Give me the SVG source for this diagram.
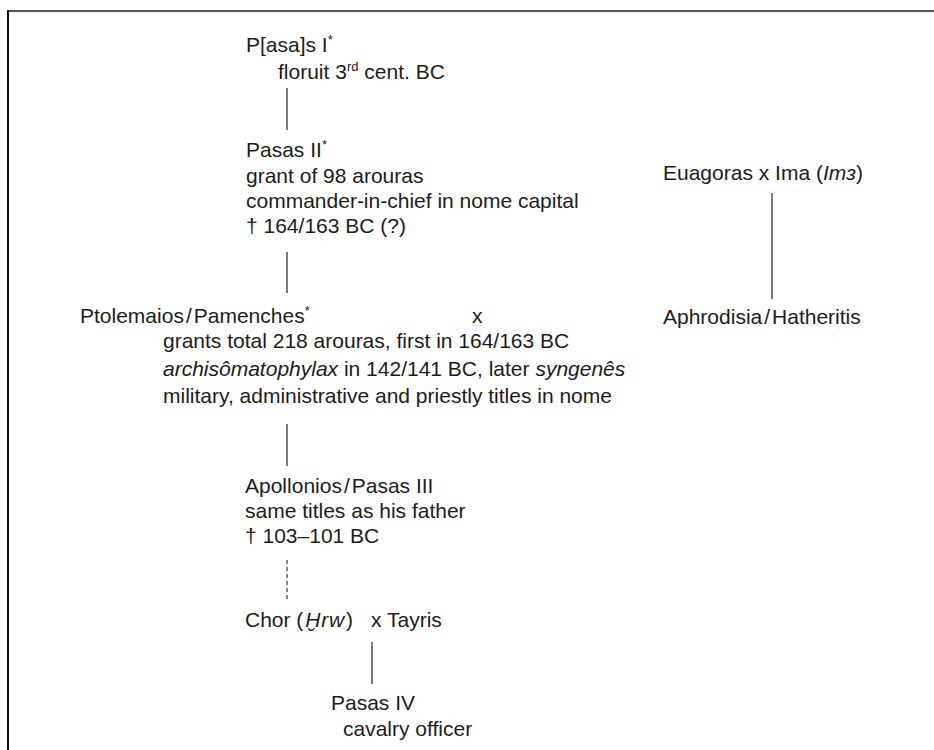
<svg xmlns="http://www.w3.org/2000/svg" width="934" height="750" viewBox="0 0 934 750">
<style>
text{font-family:"Liberation Sans","Helvetica",Arial,sans-serif;font-size:21px;fill:#1c1c1c}
.sup{font-size:13px}
.it{font-style:italic}
.ln{stroke:#333;stroke-width:1.3;fill:none}
.dash{stroke:#333;stroke-width:1.2;stroke-dasharray:4 3;fill:none}
</style>
<rect x="0" y="0" width="934" height="750" fill="#fff"/>
<g id="frame">
<line x1="7" y1="11" x2="934" y2="11" stroke="#555" stroke-width="2.2"/>
<line x1="8" y1="10" x2="8" y2="750" stroke="#111" stroke-width="2"/>
</g>
<g id="connectors">
<line class="ln" x1="287" y1="88" x2="287" y2="130"/>
<line class="ln" x1="287" y1="252" x2="287" y2="293"/>
<line class="ln" x1="772" y1="193" x2="772" y2="299"/>
<line class="ln" x1="287" y1="424" x2="287" y2="466"/>
<line class="dash" x1="287" y1="560" x2="287" y2="601"/>
<line class="ln" x1="372" y1="642" x2="372" y2="684"/>
</g>
<g id="pasas1">
<text x="246" y="52">P[asa]s I<tspan class="sup" dy="-8">*</tspan></text>
<text x="278" y="79">floruit 3<tspan class="sup" dy="-8">rd</tspan><tspan dy="8"> cent. BC</tspan></text>
</g>
<g id="pasas2">
<text x="246" y="157">Pasas II<tspan class="sup" dy="-8">*</tspan></text>
<text x="246" y="183">grant of 98 arouras</text>
<text x="246" y="208">commander-in-chief in nome capital</text>
<text x="246" y="233">† 164/163 BC (?)</text>
</g>
<g id="euagoras">
<text x="663" y="180">Euagoras x Ima (<tspan class="it">Imɜ</tspan>)</text>
</g>
<g id="ptolemaios">
<text x="80" y="323">Ptolemaios<tspan dx="2">/</tspan><tspan dx="2">Pamenches</tspan><tspan class="sup" dy="-8">*</tspan></text>
<text x="163" y="348">grants total 218 arouras, first in 164/163 BC</text>
<text x="163" y="376"><tspan class="it">archisômatophylax</tspan> in 142/141 BC, later <tspan class="it">syngenês</tspan></text>
<text x="163" y="403">military, administrative and priestly titles in nome</text>
</g>
<g id="marriage1">
<text x="472" y="323">x</text>
</g>
<g id="aphrodisia">
<text x="663" y="324">Aphrodisia<tspan dx="2">/</tspan><tspan dx="2">Hatheritis</tspan></text>
</g>
<g id="apollonios">
<text x="245" y="493">Apollonios<tspan dx="2">/</tspan><tspan dx="2">Pasas III</tspan></text>
<text x="245" y="518">same titles as his father</text>
<text x="245" y="543">† 103–101 BC</text>
</g>
<g id="chor">
<text x="245" y="627">Chor (<tspan class="it" dx="2" letter-spacing="0.8">Ḫrw</tspan><tspan dx="1">)</tspan></text>
<text x="371" y="627">x Tayris</text>
</g>
<g id="pasas4">
<text x="331" y="710">Pasas IV</text>
<text x="343" y="736">cavalry officer</text>
</g>
</svg>
